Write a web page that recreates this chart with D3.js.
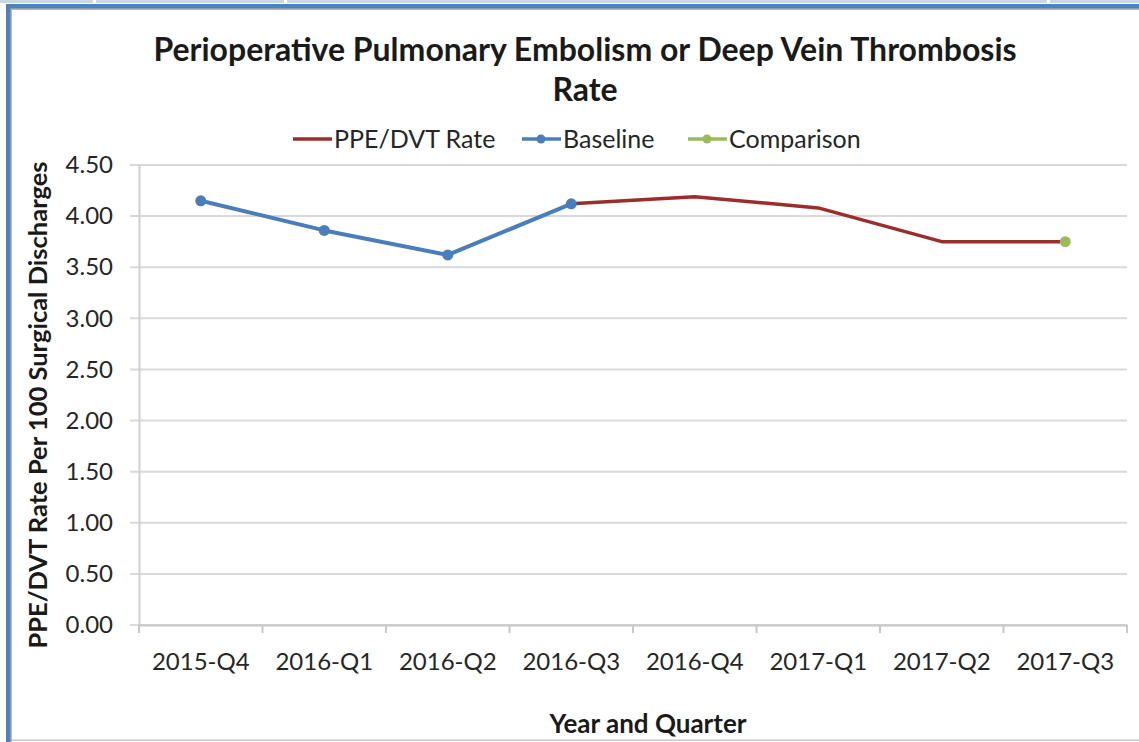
<!DOCTYPE html>
<html><head><meta charset="utf-8">
<script src="https://cdn.jsdelivr.net/npm/d3@7"></script>
<style>body{margin:0;background:#fff}svg{display:block;font-family:Lato,"Open Sans",sans-serif}</style>
</head><body>
<svg id="c" width="1139" height="742"></svg>
<script>
const categories = ["2015-Q4","2016-Q1","2016-Q2","2016-Q3","2016-Q4","2017-Q1","2017-Q2","2017-Q3"];
const rateValues = [null, null, null, 4.12, 4.19, 4.08, 3.75, 3.75];
const baselineValues = [4.15, 3.86, 3.62, 4.12, null, null, null, null];
const comparisonValues = [null, null, null, null, null, null, null, 3.75];
const yTicks = [0,0.5,1,1.5,2,2.5,3,3.5,4,4.5];
const titleLines = ["Perioperative Pulmonary Embolism or Deep Vein Thrombosis","Rate"];
const seriesNames = ["PPE/DVT Rate","Baseline","Comparison"];

const svg = d3.select("#c");
// frame decoration
svg.append("rect").attr("x",0).attr("y",0).attr("width",1139).attr("height",3).attr("fill","#c9d7e4");
[93,284,1047].forEach(x=>svg.append("rect").attr("x",x).attr("y",0).attr("width",3).attr("height",3).attr("fill","#fff"));
svg.append("rect").attr("x",6).attr("y",8).attr("width",1133).attr("height",2).attr("fill","#b8b8b8");
svg.append("rect").attr("x",10).attr("y",8).attr("width",2).attr("height",734).attr("fill","#b8b8b8");
svg.append("rect").attr("x",6).attr("y",4).attr("width",1133).attr("height",4.5).attr("fill","#4f81bd");
svg.append("rect").attr("x",6).attr("y",4).attr("width",4.5).attr("height",738).attr("fill","#4f81bd");
svg.append("rect").attr("x",12).attr("y",739.5).attr("width",1127).attr("height",1.5).attr("fill","#c8c8c8");

const x = d3.scaleBand().domain(categories).range([139,1127]);
const y = d3.scaleLinear().domain([0,4.5]).range([625,165]);

// gridlines
svg.append("g").selectAll("line").data(yTicks).join("line")
  .attr("x1",130).attr("x2",1127).attr("y1",d=>y(d)).attr("y2",d=>y(d))
  .attr("stroke","#d9d9d9").attr("stroke-width",2);

// y axis
const ya = svg.append("g").attr("transform","translate(139,0)")
  .call(d3.axisLeft(y).tickValues(yTicks).tickFormat(d3.format(".2f")).tickSize(0).tickPadding(26));
ya.select(".domain").attr("stroke","#d0d0d0").attr("stroke-width",2);
ya.selectAll("text").attr("font-size",24).attr("fill","#262626").attr("font-family","Lato");

// x axis
const xa = svg.append("g").attr("transform","translate(0,625)")
  .call(d3.axisBottom(x).tickSize(0).tickPadding(28));
xa.select(".domain").attr("stroke","#c8c8c8").attr("stroke-width",2);
xa.selectAll("text").attr("font-size",24).attr("fill","#262626").attr("font-family","Lato");
svg.append("g").selectAll("line").data(categories.concat(["__end"])).join("line")
  .attr("x1",(d,i)=>139+i*x.step()).attr("x2",(d,i)=>139+i*x.step())
  .attr("y1",625).attr("y2",633).attr("stroke","#c8c8c8").attr("stroke-width",2);

const cx = d=>x(d)+x.bandwidth()/2;
const mk = vals => categories.map((c,i)=>({c,v:vals[i]}));
const line = d3.line().defined(d=>d.v!=null).x(d=>cx(d.c)).y(d=>y(d.v));

const red="#9b2d2a", blue="#4a7ebb", green="#9bbb59";
svg.append("path").datum(mk(rateValues)).attr("d",line).attr("fill","none").attr("stroke",red).attr("stroke-width",3.5).attr("stroke-linejoin","round");
svg.append("path").datum(mk(baselineValues)).attr("d",line).attr("fill","none").attr("stroke",blue).attr("stroke-width",4).attr("stroke-linejoin","round");
svg.append("g").selectAll("circle").data(mk(baselineValues).filter(d=>d.v!=null)).join("circle")
  .attr("cx",d=>cx(d.c)).attr("cy",d=>y(d.v)).attr("r",5.5).attr("fill",blue);
svg.append("g").selectAll("circle").data(mk(comparisonValues).filter(d=>d.v!=null)).join("circle")
  .attr("cx",d=>cx(d.c)).attr("cy",d=>y(d.v)).attr("r",5.5).attr("fill",green);

// title
svg.append("text").attr("x",585).attr("y",61).attr("text-anchor","middle").attr("font-size",32).attr("font-weight","bold").attr("fill","#1a1a1a").text(titleLines[0]);
svg.append("text").attr("x",585).attr("y",101).attr("text-anchor","middle").attr("font-size",32).attr("font-weight","bold").attr("fill","#1a1a1a").text(titleLines[1]);

// legend
const leg = [{n:seriesNames[0],c:red,x:293,m:false},{n:seriesNames[1],c:blue,x:522,m:true},{n:seriesNames[2],c:green,x:688,m:true}];
leg.forEach(l=>{
  const g = svg.append("g");
  g.append("line").attr("x1",l.x).attr("x2",l.x+39).attr("y1",139).attr("y2",139).attr("stroke",l.c).attr("stroke-width",3.5);
  if(l.m) g.append("circle").attr("cx",l.x+19).attr("cy",139).attr("r",4.5).attr("fill",l.c);
  g.append("text").attr("x",l.x+41).attr("y",148).attr("font-size",25).attr("fill","#262626").text(l.n);
});

// axis titles
svg.append("text").attr("transform","translate(47,405) rotate(-90)").attr("text-anchor","middle").attr("font-size",25.5).attr("font-weight","bold").attr("fill","#1a1a1a").text("PPE/DVT Rate Per 100 Surgical Discharges");
svg.append("text").attr("x",648).attr("y",733).attr("text-anchor","middle").attr("font-size",26).attr("font-weight","bold").attr("fill","#1a1a1a").text("Year and Quarter");
</script>
</body></html>
